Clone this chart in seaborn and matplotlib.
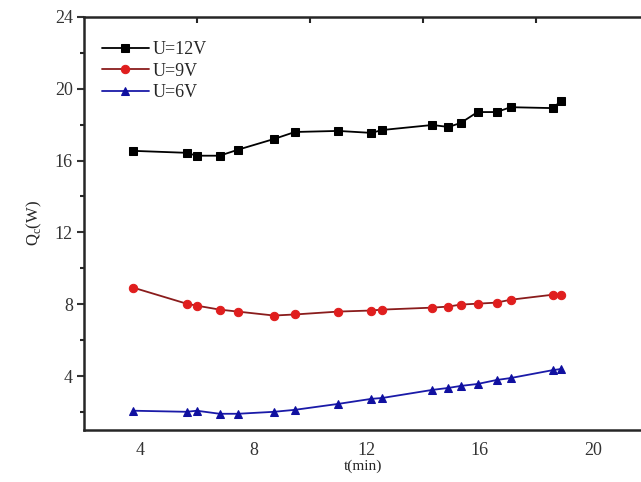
import seaborn as sns
import matplotlib.pyplot as plt
import pandas as pd

# time (min), shared by all three series
t_min = [3.75, 5.63, 5.99, 6.80, 7.44, 8.72, 9.46, 10.99, 12.16, 12.55,
         14.32, 14.89, 15.32, 15.92, 16.59, 17.09, 18.58, 18.86]
q_12v = [16.54, 16.43, 16.27, 16.27, 16.60, 17.20, 17.59, 17.65, 17.54, 17.70,
         17.98, 17.87, 18.09, 18.70, 18.70, 18.97, 18.92, 19.30]
q_9v = [8.92, 8.03, 7.92, 7.70, 7.59, 7.37, 7.43, 7.59, 7.65, 7.70,
        7.81, 7.87, 7.98, 8.03, 8.09, 8.25, 8.53, 8.53]
q_6v = [2.07, 2.01, 2.07, 1.90, 1.90, 2.01, 2.12, 2.45, 2.73, 2.78,
        3.23, 3.34, 3.45, 3.56, 3.78, 3.89, 4.33, 4.39]
series_labels = ["U=12V", "U=9V", "U=6V"]

x_ticks = [4, 8, 12, 16, 20]
y_ticks = [4, 8, 12, 16, 20, 24]

df = pd.DataFrame({"t": t_min, "U=12V": q_12v, "U=9V": q_9v, "U=6V": q_6v})

sns.set_style("ticks")
plt.rcParams['font.family'] = ['Liberation Serif', 'DejaVu Serif']

fig = plt.figure(figsize=(6.41, 4.82), dpi=100)
ax = fig.add_axes([0.131, 0.108, 0.869, 0.857])

styles = {
    "U=12V": dict(color="black", marker="s", mfc="black", mec="black"),
    "U=9V": dict(color="#8a1c1c", marker="o", mfc="#e01e1e", mec="#e01e1e"),
    "U=6V": dict(color="#1a1aa8", marker="^", mfc="#1010a0", mec="#1010a0"),
}
for lab in series_labels:
    st = styles[lab]
    sns.lineplot(data=df, x="t", y=lab, ax=ax, color=st["color"], marker=st["marker"],
                 markerfacecolor=st["mfc"], markeredgecolor=st["mec"], markersize=6,
                 linewidth=1.3, label=lab)

ax.set_xlim(2, 21.7)
ax.set_ylim(1, 24)
ax.set_xticks(x_ticks)
ax.set_yticks(y_ticks)
ax.set_yticks([2, 6, 10, 14, 18, 22], minor=True)
ax.set_xticks([6, 10, 14, 18], minor=True)

for side in ["left", "top", "bottom"]:
    ax.spines[side].set_linewidth(1.8)
ax.spines["right"].set_visible(False)

ax.tick_params(axis="y", which="major", direction="out", length=5, width=1.5,
               labelsize=13, pad=3, colors="#333333")
ax.tick_params(axis="y", which="minor", direction="out", length=3, width=1.5)
ax.tick_params(axis="x", which="major", length=0, labelsize=13, pad=9, colors="#333333")
ax.tick_params(axis="x", which="minor", bottom=False, top=True, direction="in",
               length=4, width=1.5)

ax.set_xlabel("t(min)", fontsize=11, labelpad=0)
ax.set_ylabel(r"Q$_\mathregular{c}$(W)", fontsize=12, labelpad=8)

ax.legend(loc="upper left", bbox_to_anchor=(0.0, 0.985), frameon=False, fontsize=13,
          handlelength=2.6, handletextpad=0.2, labelspacing=0.25, borderaxespad=0.6)

fig.savefig("out.png", dpi=100)
